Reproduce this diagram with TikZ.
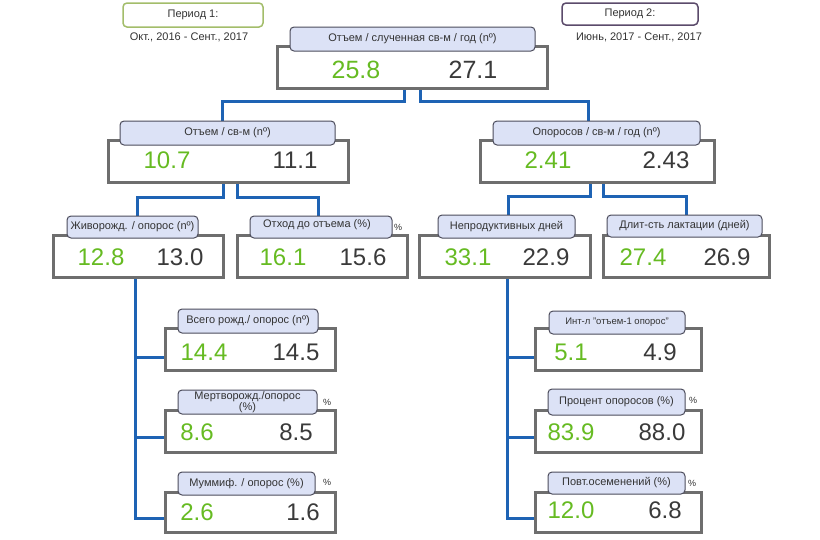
\documentclass[tikz,border=0pt]{standalone}
\usepackage{fontspec}
\setmainfont{Liberation Sans}
\usetikzlibrary{calc,backgrounds}
\definecolor{valgreen}{HTML}{66BB22}
\definecolor{valgray}{HTML}{3A3A3A}
\definecolor{boxgray}{HTML}{6E6E6E}
\definecolor{hdrfill}{HTML}{DCE2F6}
\definecolor{hdrline}{HTML}{4C4C5C}
\definecolor{connblue}{HTML}{1E63B4}
\definecolor{pAline}{HTML}{A3BD6A}
\definecolor{pBline}{HTML}{5B4B6B}
\definecolor{txt}{HTML}{333333}
\begin{document}
\begin{tikzpicture}[x=1pt,y=-1pt,
 valbox/.style={draw=boxgray,line width=3pt,fill=white,minimum height=42pt,inner sep=0pt},
 hdr/.style={draw=hdrline,line width=1pt,fill=hdrfill,rounded corners=4pt,minimum height=24pt,inner sep=0pt,font=\fontsize{11}{11}\selectfont,text=txt,align=center},
 gv/.style={text=valgreen,font=\fontsize{24}{24}\selectfont,inner sep=0pt},
 dv/.style={text=valgray,font=\fontsize{24}{24}\selectfont,inner sep=0pt},
 conn/.style={draw=connblue,line width=3pt},
 pct/.style={font=\fontsize{9}{9}\selectfont,text=txt,inner sep=0pt},
 per/.style={line width=1.5pt,fill=white,rounded corners=4pt,inner sep=0pt,font=\fontsize{11}{11}\selectfont,text=txt},
 pertxt/.style={font=\fontsize{11}{11}\selectfont,text=txt,inner sep=0pt}]
\useasboundingbox (0,0) rectangle (820,539);

% period legends
\node[per,draw=pAline,minimum width=140pt,minimum height=24pt] (pA) at (193,15) {Период 1:};
\node[pertxt] (pAt) at (189,37) {Окт., 2016 - Сент., 2017};
\node[per,draw=pBline,minimum width=136pt,minimum height=22pt] (pB) at (630,14) {Период 2:};
\node[pertxt] (pBt) at (639,37) {Июнь, 2017 - Сент., 2017};

% boxes (main bodies)
\node[valbox,minimum width=270pt] (b0) at (412,67) {};
\node[valbox,minimum width=240pt] (bL) at (228,161) {};
\node[valbox,minimum width=234pt] (bR) at (597,161) {};
\node[valbox,minimum width=170pt] (bLL) at (138,256) {};
\node[valbox,minimum width=170pt] (bLR) at (322,256) {};
\node[valbox,minimum width=171pt] (bRL) at (504.5,256) {};
\node[valbox,minimum width=166pt] (bRR) at (686,256) {};
\node[valbox,minimum width=170pt] (bL1) at (250,349) {};
\node[valbox,minimum width=170pt] (bL2) at (250,431) {};
\node[valbox,minimum width=170pt,minimum height=40pt] (bL3) at (250,512) {};
\node[valbox,minimum width=166pt] (bR1) at (618,349) {};
\node[valbox,minimum width=166pt] (bR2) at (618,431) {};
\node[valbox,minimum width=166pt,minimum height=40pt] (bR3) at (618,512) {};

% headers
\node[hdr,minimum width=245pt] (h0) at (412.5,39) {Отъем / слученная св-м / год (nº)};
\node[hdr,minimum width=215pt] (hL) at (227.5,133) {Отъем / св-м (nº)};
\node[hdr,minimum width=207pt] (hR) at (596.5,133) {Опоросов / св-м / год (nº)};
\node[hdr,minimum width=131pt,minimum height=22pt] (hLL) at (132.5,227) {Живорожд. / опорос (nº)};
\node[hdr,minimum width=142pt,minimum height=22pt] (hLR) at (321,227) {};
\node[font=\fontsize{11}{11}\selectfont,text=txt,inner sep=0pt] (hLRt) at (317,225) {Отход до отъема (\%)};
\node[hdr,minimum width=137pt,minimum height=23pt] (hRL) at (506.5,226.5) {Непродуктивных дней};
\node[hdr,minimum width=155pt,minimum height=22pt] (hRR) at (684.5,226) {Длит-сть лактации (дней)};
\node[hdr,minimum width=140pt] (hL1) at (248,321) {Всего рожд./ опорос (nº)};
\node[hdr,minimum width=139pt] (hL2) at (247.5,402) {Мертворожд./опорос\\(\%)};
\node[hdr,minimum width=137pt,minimum height=23pt] (hL3) at (246.5,483.5) {Муммиф. / опорос (\%)};
\node[hdr,minimum width=136pt,minimum height=23pt,font=\fontsize{9.5}{9.5}\selectfont] (hR1) at (617,322.5) {Инт-л "отъем-1 опорос"};
\node[hdr,minimum width=137pt,minimum height=26pt] (hR2) at (616.5,402) {Процент опоросов (\%)};
\node[hdr,minimum width=137pt,minimum height=22pt] (hR3) at (616.5,483) {Повт.осеменений (\%)};

% percent marks
\node[pct] (pc1) at (398,227) {\%};
\node[pct] (pc2) at (327,402) {\%};
\node[pct] (pc3) at (327,482) {\%};
\node[pct] (pc4) at (693,400) {\%};
\node[pct] (pc5) at (692,483) {\%};

% values
\node[gv,font=\fontsize{25}{25}\selectfont] (v0a) at (356,70) {25.8};
\node[dv,font=\fontsize{25}{25}\selectfont] (v0b) at (473,70) {27.1};
\node[gv] (vLa) at (167,160) {10.7};
\node[dv] (vLb) at (295,160) {11.1};
\node[gv] (vRa) at (548,160) {2.41};
\node[dv] (vRb) at (666,160) {2.43};
\node[gv] (vLLa) at (101,257) {12.8};
\node[dv] (vLLb) at (180,257) {13.0};
\node[gv] (vLRa) at (283,257) {16.1};
\node[dv] (vLRb) at (363,257) {15.6};
\node[gv] (vRLa) at (468,257) {33.1};
\node[dv] (vRLb) at (546,257) {22.9};
\node[gv] (vRRa) at (643,257) {27.4};
\node[dv] (vRRb) at (727,257) {26.9};
\node[gv] (vL1a) at (204,352) {14.4};
\node[dv] (vL1b) at (296,352) {14.5};
\node[gv] (vL2a) at (197,432) {8.6};
\node[dv] (vL2b) at (296,432) {8.5};
\node[gv] (vL3a) at (197,512) {2.6};
\node[dv] (vL3b) at (303,512) {1.6};
\node[gv] (vR1a) at (571,352) {5.1};
\node[dv] (vR1b) at (660,352) {4.9};
\node[gv] (vR2a) at (571,432) {83.9};
\node[dv] (vR2b) at (662,432) {88.0};
\node[gv] (vR3a) at (571,510) {12.0};
\node[dv] (vR3b) at (665,510) {6.8};

% connectors (behind boxes)
\begin{scope}[on background layer]
\fill[white] (0,0) rectangle (820,539);
\draw[conn] ([xshift=-8pt]b0.south) -- ++(0,12) -| ([xshift=-5.5pt]hL.north);
\draw[conn] ([xshift=8pt]b0.south) -- ++(0,12) -| ([xshift=-8.5pt]hR.north);
\draw[conn] ([xshift=-5pt]bL.south) -- ++(0,14) -| ([xshift=4.5pt]hLL.north);
\draw[conn] ([xshift=9pt]bL.south) -- ++(0,14) -| ([xshift=-3pt]hLR.north);
\draw[conn] ([xshift=-7pt]bR.south) -- ++(0,13) -| ([xshift=1.5pt]hRL.north);
\draw[conn] ([xshift=6pt]bR.south) -- ++(0,13) -| ([xshift=1.5pt]hRR.north);
\draw[conn] ([xshift=-3pt]bLL.south) |- ([yshift=-8pt]bL1.west);
\draw[conn] ([xshift=-3pt]bLL.south) |- ([yshift=-6pt]bL2.west);
\draw[conn] ([xshift=-3pt]bLL.south) |- ([yshift=-6pt]bL3.west);
\draw[conn] ([xshift=2.5pt]bRL.south) |- ([yshift=-8pt]bR1.west);
\draw[conn] ([xshift=2.5pt]bRL.south) |- ([yshift=-6pt]bR2.west);
\draw[conn] ([xshift=2.5pt]bRL.south) |- ([yshift=-6pt]bR3.west);
\end{scope}
\end{tikzpicture}
\end{document}
